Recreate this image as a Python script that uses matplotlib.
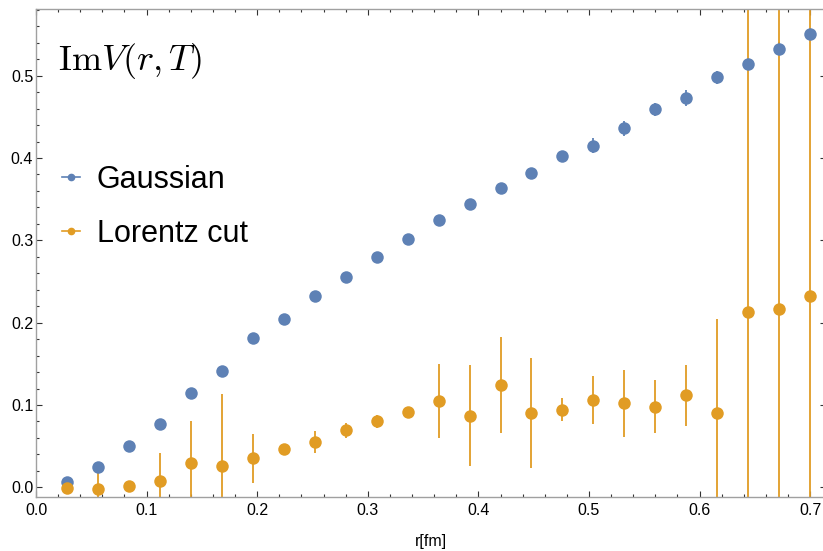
import numpy as np
import matplotlib.pyplot as plt
from matplotlib.lines import Line2D
from matplotlib.ticker import MultipleLocator

plt.rcParams['font.family'] = ['Liberation Sans', 'DejaVu Sans']
plt.rcParams['mathtext.fontset'] = 'cm'

# separations r = k*a, k = 1..25
r = 0.028 * np.arange(1, 26)

gauss = [0.007, 0.025, 0.050, 0.077, 0.115, 0.141, 0.181, 0.204, 0.232, 0.256,
         0.280, 0.301, 0.325, 0.344, 0.363, 0.382, 0.402, 0.415, 0.436, 0.459,
         0.473, 0.498, 0.514, 0.533, 0.551]
gauss_err = [0.002, 0.002, 0.002, 0.003, 0.003, 0.003, 0.003, 0.003, 0.004, 0.004,
             0.004, 0.004, 0.005, 0.005, 0.005, 0.005, 0.006, 0.0095, 0.0093, 0.008,
             0.0095, 0.008, 0.0075, 0.0075, 0.0072]

lorentz = [-0.001, -0.002, 0.002, 0.008, 0.030, 0.026, 0.035, 0.046, 0.055, 0.069,
           0.080, 0.091, 0.105, 0.087, 0.124, 0.090, 0.094, 0.106, 0.102, 0.098,
           0.112, 0.090, 0.213, 0.216, 0.232]
lorentz_err = [0.003, 0.027, 0.003, 0.034, 0.051, 0.087, 0.030, 0.004, 0.013, 0.009,
               0.008, 0.004, 0.045, 0.061, 0.058, 0.067, 0.014, 0.029, 0.041, 0.032,
               0.037, 0.114, 0.9, 1.2, 1.5]

blue = '#5e81b5'
orange = '#e19c24'

fig = plt.figure(figsize=(8.23, 5.51), dpi=100)
ax = fig.add_axes([36/823, 1 - 497/551, 790/823, 488/551])

ax.errorbar(r, gauss, yerr=gauss_err, fmt='o', color=blue, ms=9, mew=0,
            elinewidth=1.3, capsize=2.5, capthick=1.3)
ax.errorbar(r, lorentz, yerr=lorentz_err, fmt='o', color=orange, ms=9, mew=0,
            elinewidth=1.3, capsize=2.5, capthick=1.3)

ax.set_xlim(0, 0.7143)
ax.set_ylim(-0.0118, 0.581)

ax.xaxis.set_major_locator(MultipleLocator(0.1))
ax.xaxis.set_minor_locator(MultipleLocator(0.02))
ax.yaxis.set_major_locator(MultipleLocator(0.1))
ax.yaxis.set_minor_locator(MultipleLocator(0.02))
ax.tick_params(which='both', direction='in', top=True, right=True,
               color='#333333', width=0.8)
ax.tick_params(which='major', length=4.5, labelsize=11.5)
ax.tick_params(which='minor', length=2.5)
ax.tick_params(axis='y', pad=2)
ax.tick_params(axis='x', pad=4)
for s in ax.spines.values():
    s.set_color('#a0a0a0')
    s.set_linewidth(1.0)

ax.set_xlabel('r[fm]', fontsize=11.5, labelpad=12)

ax.text(0.028, 0.935, r'$\mathrm{Im}V(r,T)$', transform=ax.transAxes,
        fontsize=26, va='top', ha='left')

handles = [Line2D([], [], color=blue, marker='o', ms=4.5, lw=1.2),
           Line2D([], [], color=orange, marker='o', ms=4.5, lw=1.2)]
ax.legend(handles, ['Gaussian', 'Lorentz cut'], loc='upper left',
          bbox_to_anchor=(0.017, 0.706), frameon=False, fontsize=22,
          handlelength=0.6, handletextpad=0.55, labelspacing=0.78,
          borderaxespad=0)

fig.savefig('out.png', dpi=100)
